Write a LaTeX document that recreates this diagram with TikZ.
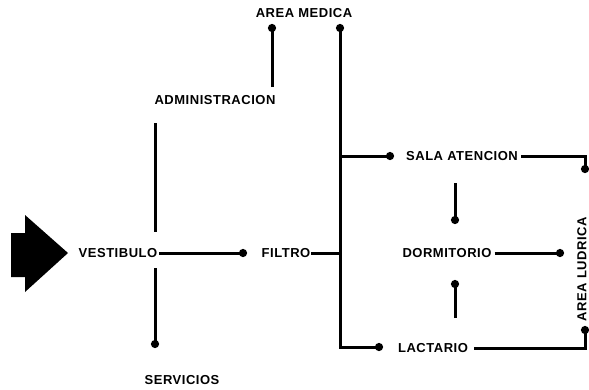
\documentclass[tikz,border=0pt]{standalone}
\usepackage{fontspec}
\setmainfont[LetterSpace=4]{Liberation Sans}
\usetikzlibrary{arrows.meta}
\begin{document}
\begin{tikzpicture}[x=1pt,y=-1pt,
  lbl/.style={font=\bfseries\fontsize{13}{15}\selectfont, inner sep=0pt, anchor=center},
  conn/.style={line width=3pt, line cap=butt},
  dot/.style={conn, -{Circle[length=8pt,width=8pt]}},
  dotboth/.style={conn, {Circle[length=8pt,width=8pt]}-{Circle[length=8pt,width=8pt]}}]
\useasboundingbox (0,0) rectangle (589,389);
% entrance arrow
\fill (11,233) -- (25,233) -- (25,215) -- (68,253) -- (25,292) -- (25,277) -- (11,277) -- cycle;
% nodes
\node[lbl] (vest) at (118,253) {VESTIBULO};
\node[lbl] (filtro) at (286,253) {FILTRO};
\node[lbl] (adm) at (215,100) {ADMINISTRACION};
\node[lbl] (med) at (304,13) {AREA MEDICA};
\node[lbl] (serv) at (182,380) {SERVICIOS};
\node[lbl] (sala) at (462,156) {SALA ATENCION};
\node[lbl] (dorm) at (447,253) {DORMITORIO};
\node[lbl] (lact) at (433,348) {LACTARIO};
\node[lbl, rotate=90] (lud) at (582,269) {AREA LUDRICA};
% coordinates
\coordinate (vx) at (155,0);
\coordinate (tx) at (340,0);
\coordinate (dx) at (455,0);
\coordinate (rx) at (585,0);
% connectors
\draw[dot] (vest.east) ++(2,0) -- (247,253);
\draw[conn] (vx |- 0,123) -- (vx |- 0,232);
\draw[dot] (vx |- 0,268) -- (vx |- 0,348);
\draw[dot] (272,87) -- (272,24);
\draw[dotboth] (tx |- 0,24) -- (tx |- 0,347) -- (383,347);
\draw[conn] (filtro.east) ++(1,0) -- (filtro.east -| tx);
\draw[dot] (tx |- sala) -- (394,156);
\draw[dot] (sala.east) ++(3,0) -- (rx |- sala) -- (rx |- 0,173);
\draw[dot] (dx |- 0,183) -- (dx |- 0,224);
\draw[dot] (dx |- 0,318) -- (dx |- 0,280);
\draw[dot] (dorm.east) ++(3,0) -- (564,253);
\draw[dot] (lact.east) ++(6,0) -- (rx |- lact) -- (rx |- 0,326);
\end{tikzpicture}
\end{document}
